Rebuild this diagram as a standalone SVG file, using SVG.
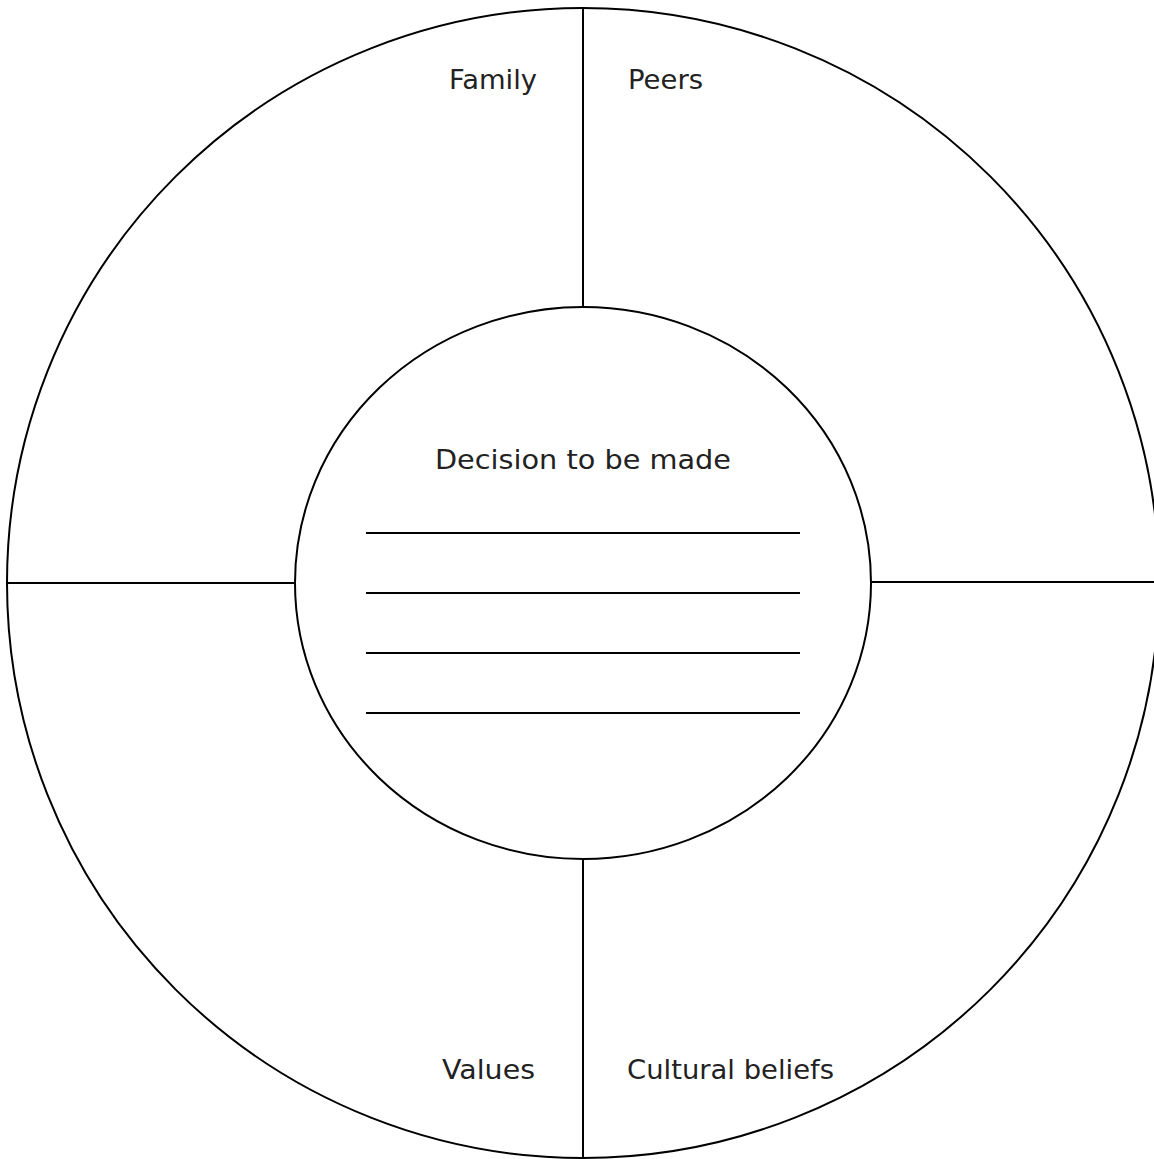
<svg xmlns="http://www.w3.org/2000/svg" width="1154" height="1159" viewBox="0 0 1154 1159">
<style>
.s{fill:none;stroke:#000;stroke-width:2}
.t{font-family:"DejaVu Sans","Liberation Sans",sans-serif;font-size:27px;fill:#222}
</style>
<rect width="1154" height="1159" fill="#fff"/>
<g id="outer"><ellipse class="s" cx="583" cy="583" rx="576" ry="575"/></g>
<g id="connectors">
<line class="s" x1="583" y1="8" x2="583" y2="307"/>
<line class="s" x1="583" y1="859" x2="583" y2="1158"/>
<line class="s" x1="7" y1="583" x2="295" y2="583"/>
<line class="s" x1="871" y1="582" x2="1154" y2="582"/>
</g>
<g id="center">
<ellipse class="s" cx="583" cy="583" rx="288" ry="276" fill="#fff"/>
<text class="t" x="435" y="469" textLength="296" lengthAdjust="spacingAndGlyphs">Decision to be made</text>
<line class="s" x1="366" y1="533" x2="800" y2="533"/>
<line class="s" x1="366" y1="593" x2="800" y2="593"/>
<line class="s" x1="366" y1="653" x2="800" y2="653"/>
<line class="s" x1="366" y1="713" x2="800" y2="713"/>
</g>
<g id="family"><text class="t" x="449" y="89" textLength="88" lengthAdjust="spacingAndGlyphs">Family</text></g>
<g id="peers"><text class="t" x="628" y="89" textLength="75" lengthAdjust="spacingAndGlyphs">Peers</text></g>
<g id="values"><text class="t" x="442" y="1079" textLength="93" lengthAdjust="spacingAndGlyphs">Values</text></g>
<g id="cultural"><text class="t" x="627" y="1079" textLength="207" lengthAdjust="spacingAndGlyphs">Cultural beliefs</text></g>
</svg>
